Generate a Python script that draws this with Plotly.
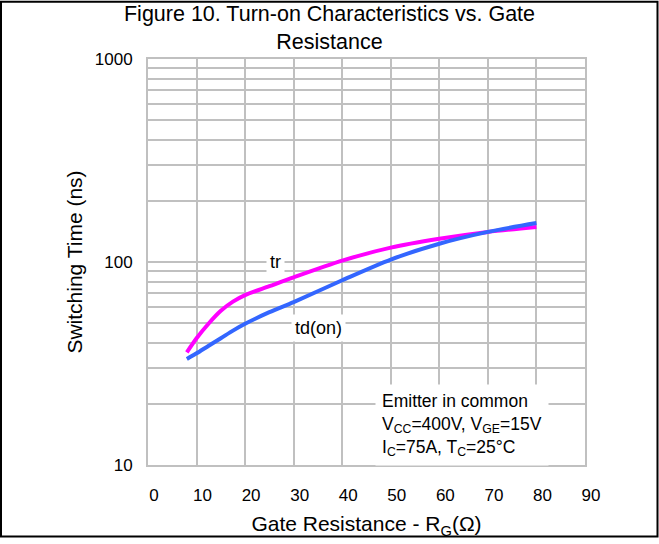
import math
import plotly.graph_objects as go

rg = [8, 10, 12.5, 15, 17.5, 20, 25, 30, 40, 50, 60, 70, 80]
tr = [35.9, 42.1, 49.8, 57.5, 63.8, 68.7, 76.0, 84.1, 101.6, 117.7, 130.1, 140.7, 148.8]
td_on = [33.3, 35.5, 38.7, 42.1, 45.9, 49.6, 56.6, 63.5, 81.3, 102.8, 123.0, 140.7, 155.6]

x_ticks = [0, 10, 20, 30, 40, 50, 60, 70, 80, 90]
y_ticks = [10, 100, 1000]

FONT = "Liberation Sans, Arial, sans-serif"
GRID = "#c0c0c0"

fig = go.Figure()
fig.add_trace(go.Scatter(x=rg, y=tr, mode="lines", name="tr",
                         line=dict(color="#ff00ff", width=4, shape="spline", smoothing=0.8),
                         showlegend=False))
fig.add_trace(go.Scatter(x=rg, y=td_on, mode="lines", name="td(on)",
                         line=dict(color="#3366ff", width=4, shape="spline", smoothing=0.8),
                         showlegend=False))

L, R, T, B = 148, 74, 59, 74
W, H = 659 - L - R, 544 - T - B

fig.update_layout(
    width=659, height=544,
    margin=dict(l=L, r=R, t=T, b=B),
    paper_bgcolor="white", plot_bgcolor="white",
    font=dict(family=FONT, color="black", size=17),
    title=dict(text="Figure 10. Turn-on Characteristics vs. Gate<br>Resistance",
               x=0.5, xref="container", xanchor="center",
               y=0.962, yref="container", yanchor="top",
               font=dict(family=FONT, size=21.5, color="black")),
    xaxis=dict(range=[0, 90], tickvals=x_ticks, ticktext=[str(v) for v in x_ticks],
               showgrid=True, gridcolor=GRID, gridwidth=2,
               showline=True, linecolor=GRID, linewidth=2, mirror=True,
               zeroline=False, ticks="", ticklabelstandoff=14, ticklabelshift=6,
               tickfont=dict(size=17),
               title=dict(text="Gate Resistance - R<sub>G</sub>(Ω)", font=dict(size=21), standoff=12)),
    yaxis=dict(type="log", range=[1, 3], tickvals=y_ticks, ticktext=[str(v) for v in y_ticks],
               showgrid=True, gridcolor=GRID, gridwidth=2,
               minor=dict(dtick="D1", showgrid=True, gridcolor=GRID, gridwidth=2, ticks=""),
               showline=True, linecolor=GRID, linewidth=2, mirror=True,
               zeroline=False, ticks="", ticklabelstandoff=10,
               tickfont=dict(size=17),
               title=dict(text="Switching Time (ns)", font=dict(size=21), standoff=6)),
)

fig.add_annotation(x=26.2, y=math.log10(100.5), xref="x", yref="y", text="tr", showarrow=False,
                   bgcolor="white", borderpad=3, font=dict(size=18))
fig.add_annotation(x=35.2, y=math.log10(47.2), xref="x", yref="y", text="td(on)", showarrow=False,
                   bgcolor="white", borderpad=3, font=dict(size=18))

fig.add_annotation(x=(375 - L) / W, y=(470 - 388) / H, xref="paper", yref="paper",
                   xanchor="left", yanchor="top", align="left",
                   text="Emitter in common<br>V<sub>CC</sub>=400V, V<sub>GE</sub>=15V<br>I<sub>C</sub>=75A, T<sub>C</sub>=25°C",
                   showarrow=False, bgcolor="white", borderpad=6, font=dict(size=17.5))

fig.add_shape(type="rect", xref="paper", yref="paper",
              x0=(1 - L) / W, x1=(657.5 - L) / W,
              y0=(470 - 542.5) / H, y1=(470 - 1) / H,
              line=dict(color="black", width=2), fillcolor="rgba(0,0,0,0)", layer="above")

fig.write_html("out.html")
